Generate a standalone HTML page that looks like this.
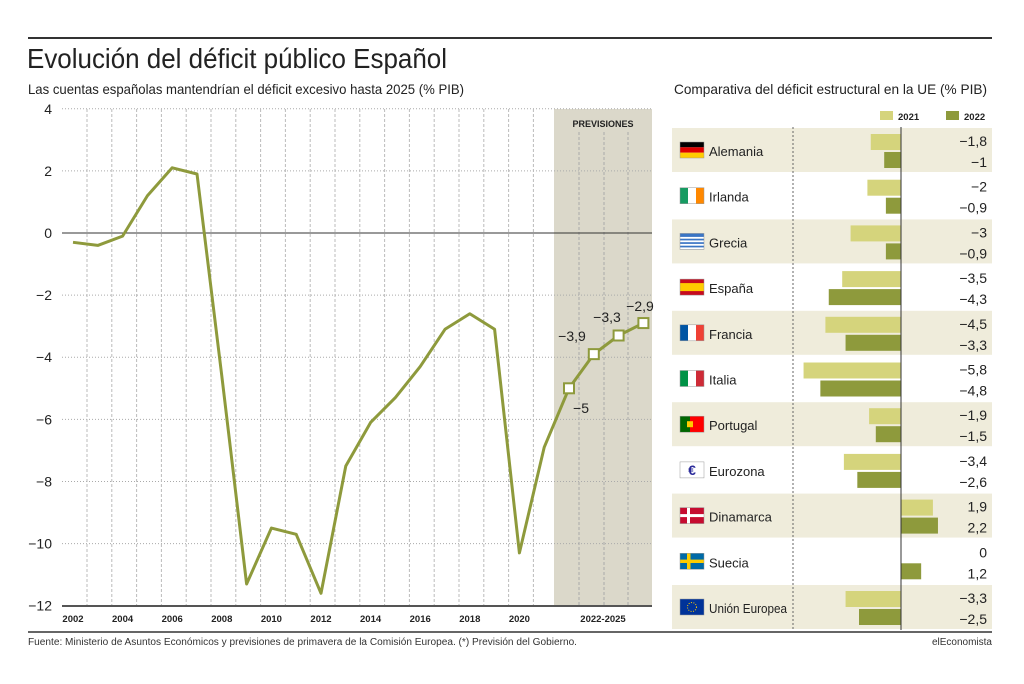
<!DOCTYPE html>
<html><head><meta charset="utf-8"><style>
body{margin:0;background:#fff;width:1024px;height:684px;overflow:hidden}
svg{display:block;font-family:"Liberation Sans",sans-serif}
</style></head><body>
<svg id="s" width="1024" height="684" xmlns="http://www.w3.org/2000/svg">
<rect width="1024" height="684" fill="#fff"/>
<line x1="28" y1="38" x2="992" y2="38" stroke="#333" stroke-width="2"/>
<text x="27" y="68" font-size="28" fill="#222" textLength="420" lengthAdjust="spacingAndGlyphs">Evolución del déficit público Español</text>
<text x="28" y="94" font-size="14" fill="#222" textLength="436" lengthAdjust="spacingAndGlyphs">Las cuentas españolas mantendrían el déficit excesivo hasta 2025 (% PIB)</text>
<text x="674" y="94" font-size="14" fill="#222" textLength="313" lengthAdjust="spacingAndGlyphs">Comparativa del déficit estructural en la UE (% PIB)</text>
<rect x="554" y="109" width="98" height="497" fill="#dbd8ca"/>
<text x="603" y="127" font-size="9" font-weight="bold" fill="#222" text-anchor="middle">PREVISIONES</text>
<g id="grid"></g>
<line x1="62" y1="233" x2="652" y2="233" stroke="#333" stroke-width="1"/>
<line x1="62" y1="606" x2="652" y2="606" stroke="#555" stroke-width="2"/>
<g id="lbl" font-size="14" fill="#222"></g>
<polyline id="ln" fill="none" stroke="#8e9a3c" stroke-width="3" stroke-linejoin="round"/>
<g id="mk"></g>
<g font-size="14" fill="#222">
<text x="572" y="341" text-anchor="middle">−3,9</text>
<text x="607" y="322" text-anchor="middle">−3,3</text>
<text x="640" y="311" text-anchor="middle">−2,9</text>
<text x="581" y="413" text-anchor="middle">−5</text>
</g>
<rect x="880" y="111" width="13" height="9" fill="#d5d47c"/>
<text x="898" y="120" font-size="9.5" font-weight="bold" fill="#222">2021</text>
<rect x="946" y="111" width="13" height="9" fill="#8e9a3c"/>
<text x="964" y="120" font-size="9.5" font-weight="bold" fill="#222">2022</text>
<g id="rt"></g>
<line x1="793" y1="127" x2="793" y2="630" stroke="#666" stroke-dasharray="2,2"/>
<line x1="901" y1="127" x2="901" y2="630" stroke="#333" stroke-width="1"/>
<line x1="28" y1="632" x2="992" y2="632" stroke="#333" stroke-width="1.5"/>
<text x="28" y="645" font-size="10" fill="#333" textLength="549" lengthAdjust="spacingAndGlyphs">Fuente: Ministerio de Asuntos Económicos y previsiones de primavera de la Comisión Europea. (*) Previsión del Gobierno.</text>
<text x="992" y="645" font-size="10" fill="#333" text-anchor="end">elEconomista</text>
</svg>
<script>
const NS="http://www.w3.org/2000/svg";
function el(p,t,a,txt){const e=document.createElementNS(NS,t);for(const k in a)e.setAttribute(k,a[k]);if(txt!==undefined)e.textContent=txt;document.getElementById(p).appendChild(e);return e;}
const Y=v=>233-v*31.06, X=y=>73+(y-2002)*24.8;
for(let v=4;v>=-10;v-=2){if(v!==0)el('grid','line',{x1:62,x2:652,y1:Y(v),y2:Y(v),stroke:'#aaa','stroke-dasharray':'1,2'});}
for(let x=87;x<550;x+=24.8){el('grid','line',{x1:x,x2:x,y1:109,y2:606,stroke:'#bbb','stroke-dasharray':'3,2'});}
[579,604,628].forEach(x=>el('grid','line',{x1:x,x2:x,y1:132,y2:606,stroke:'#aaa','stroke-dasharray':'3,2'}));
for(let v=4;v>=-12;v-=2)el('lbl','text',{x:52,y:Y(v)+5,'text-anchor':'end'},(v<0?'−':'')+Math.abs(v));
for(let y=2002;y<=2020;y+=2)el('lbl','text',{x:X(y),y:622,'text-anchor':'middle','font-size':'9.5','font-weight':'bold'},y);
el('lbl','text',{x:603,y:622,'text-anchor':'middle','font-size':'9.5','font-weight':'bold'},'2022-2025');
const d=[-0.3,-0.4,-0.1,1.2,2.1,1.9,-4.6,-11.3,-9.5,-9.7,-11.6,-7.5,-6.1,-5.3,-4.3,-3.1,-2.6,-3.1,-10.3,-6.9,-5,-3.9,-3.3,-2.9];
document.getElementById('ln').setAttribute('points',d.map((v,i)=>X(2002+i)+','+Y(v)).join(' '));
for(let i=20;i<24;i++)el('mk','rect',{x:X(2002+i)-5,y:Y(d[i])-5,width:10,height:10,fill:'#fff',stroke:'#8e9a3c','stroke-width':2});
const rows=[['Alemania',-1.8,-1],['Irlanda',-2,-0.9],['Grecia',-3,-0.9],['España',-3.5,-4.3],['Francia',-4.5,-3.3],['Italia',-5.8,-4.8],['Portugal',-1.9,-1.5],['Eurozona',-3.4,-2.6],['Dinamarca',1.9,2.2],['Suecia',0,1.2],['Unión Europea',-3.3,-2.5]];
const flags={
Alemania:[['#000',0,0,24,5.3],['#d00',0,5.3,24,5.4],['#fc0',0,10.7,24,5.3]],
Irlanda:[['#169b62',0,0,8,16],['#fff',8,0,8,16],['#f80',16,0,8,16]],
Grecia:[['#3a75c4',0,0,24,16],['#fff',0,3.5,24,1.8],['#fff',0,7,24,1.8],['#fff',0,10.5,24,1.8],['#fff',0,14,24,1.8]],
'España':[['#c60b1e',0,0,24,16],['#fc0',0,4,24,8]],
Francia:[['#0055a4',0,0,8,16],['#fff',8,0,8,16],['#ef4135',16,0,8,16]],
Italia:[['#009246',0,0,8,16],['#fff',8,0,8,16],['#ce2b37',16,0,8,16]],
Portugal:[['#060',0,0,10,16],['#f00',10,0,14,16],['#fc0',7,5,6,6]],
Eurozona:[['#fff',0,0,24,16]],
Dinamarca:[['#c60c30',0,0,24,16],['#fff',7,0,3,16],['#fff',0,6.5,24,3]],
Suecia:[['#006aa7',0,0,24,16],['#fecc00',7,0,3.5,16],['#fecc00',0,6.3,24,3.4]],
'Unión Europea':[['#039',0,0,24,16]]};
const S=16.8;
rows.forEach((r,i)=>{const t=127+i*45.7;
 if(i%2==0)el('rt','rect',{x:672,y:t+1,width:320,height:44,fill:'#efecdb'});
 const fy=t+15;
 flags[r[0]].forEach(f=>el('rt','rect',{x:680+f[1],y:fy+f[2],width:f[3],height:f[4],fill:f[0]}));
 el('rt','rect',{x:680,y:fy,width:24,height:16,fill:'none',stroke:'#999','stroke-width':0.5});
 if(r[0]=='Eurozona')el('rt','text',{x:692,y:fy+13,'text-anchor':'middle','font-size':14,'font-weight':'bold',fill:'#2a2a9a'},'€');
 if(r[0]=='Unión Europea')el('rt','circle',{cx:692,cy:fy+8,r:4.5,fill:'none',stroke:'#fc0','stroke-dasharray':'1,1.5'});
 const a={x:709,y:t+29,'font-size':13,fill:'#222'};
 if(r[0]=='Unión Europea'){a.textLength=78;a.lengthAdjust='spacingAndGlyphs';}
 el('rt','text',a,r[0]);
 [[r[1],t+7,'#d5d47c'],[r[2],t+25,'#8e9a3c']].forEach(b=>{const w=Math.abs(b[0])*S;if(w>0)el('rt','rect',{x:b[0]<0?901-w:901,y:b[1],width:w,height:16,fill:b[2]});});
 const fmt=v=>(v<0?'−':'')+String(Math.abs(v)).replace('.',',');
 el('rt','text',{x:987,y:t+19,'text-anchor':'end','font-size':14,fill:'#222'},fmt(r[1]));
 el('rt','text',{x:987,y:t+40,'text-anchor':'end','font-size':14,fill:'#222'},fmt(r[2]));
});
</script>
</body></html>
